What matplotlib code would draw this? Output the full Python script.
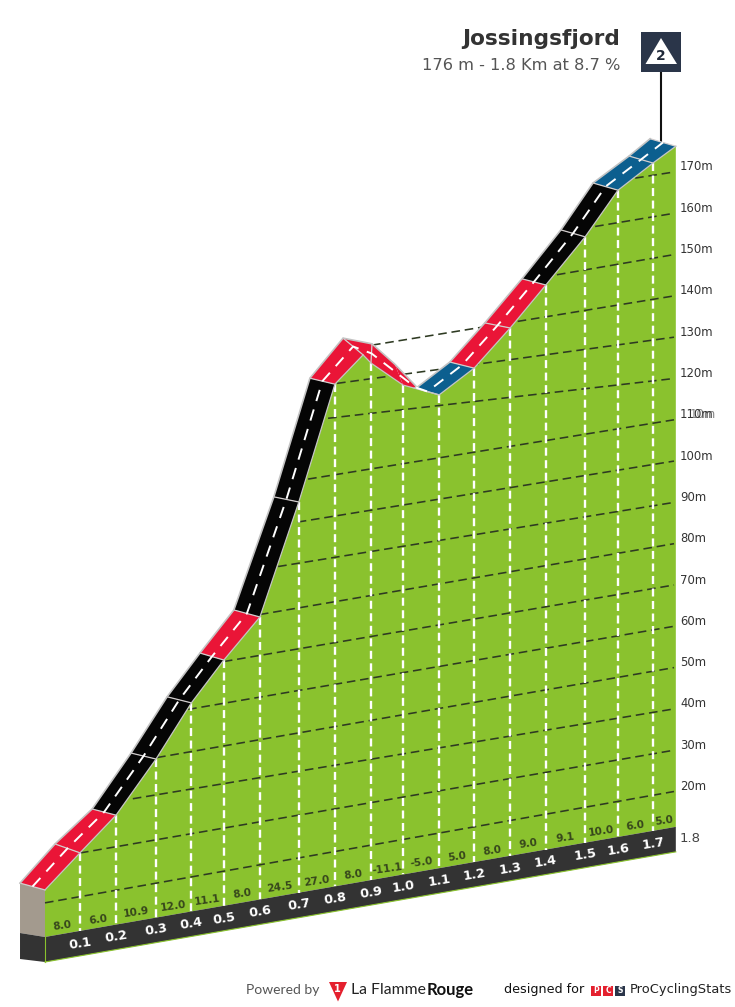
import numpy as np
import matplotlib
matplotlib.use('Agg')
import matplotlib.pyplot as plt
from matplotlib.patches import Polygon, Rectangle

# road front edge: km and metres
front_km = [0, 0.098, 0.199, 0.311, 0.410, 0.501, 0.602, 0.711, 0.812, 0.891, 0.913,
            1.003, 1.034, 1.104, 1.202, 1.303, 1.403, 1.513, 1.605, 1.703, 1.767]
front_m = [22.7, 30.2, 37.8, 49.7, 61.8, 70.8, 79.7, 105.9, 132.9, 138.8, 136.5,
           129.8, 128.6, 125.9, 130.9, 139.1, 148.0, 158.0, 167.9, 173.0, 176.1]
# road far edge
back_km = [-0.070, 0.028, 0.132, 0.241, 0.342, 0.434, 0.529, 0.641, 0.742, 0.835, 0.916,
           0.980, 1.039, 1.039, 1.134, 1.232, 1.336, 1.445, 1.535, 1.636, 1.695]
back_m = [25.4, 33.4, 40.3, 52.2, 64.3, 73.5, 82.5, 108.2, 135.4, 143.7, 141.1,
          135.2, 129.0, 128.5, 133.4, 141.4, 150.5, 160.7, 170.7, 175.7, 179.0]
seg_colors = ['red', 'red', 'black', 'black', 'black', 'red', 'black', 'black', 'red', 'red', 'red',
              'red', None, 'blue', 'red', 'red', 'black', 'black', 'blue', 'blue']

# km marks
mark_idx = [1, 2, 3, 4, 5, 6, 7, 8, 10, 11, 13, 14, 15, 16, 17, 18, 19]
km_labels = ['0.1', '0.2', '0.3', '0.4', '0.5', '0.6', '0.7', '0.8', '0.9', '1.0',
             '1.1', '1.2', '1.3', '1.4', '1.5', '1.6', '1.7']
pct_labels = ['8.0', '6.0', '10.9', '12.0', '11.1', '8.0', '24.5', '27.0', '8.0', '-11.1',
              '-5.0', '5.0', '8.0', '9.0', '9.1', '10.0', '6.0', '5.0']

# elevation grid
grid_levels = [20, 30, 40, 50, 60, 70, 80, 90, 100, 110, 120, 130, 140, 150, 160, 170]
grid_start_km = [0, 0.098, 0.246, 0.314, 0.401, 0.501, 0.602, 0.653, 0.708, 0.737, 0.793, 0.818,
                 0.916, 1.434, 1.541, 1.653]
grid_tilt = [0.177, 0.173, 0.166, 0.174, 0.171, 0.170, 0.171, 0.162, 0.162, 0.162, 0.115, 0.137,
             0.163, 0.172, 0.167, 0.157]

colors = {'red': '#EA1537', 'black': '#050505', 'blue': '#0C5F8F'}
GREEN = '#8AC22E'
DARK = '#333333'

# projection of the profile into the image
X0, Y0, PX_KM, PX_M, SKEW, M0 = 45, 937, 357, 4.13, 0.1746, 11.3


def px(km, m=M0):
    km = np.asarray(km, dtype=float)
    x = X0 + km * PX_KM
    return x, Y0 - SKEW * (x - X0) - (np.asarray(m, dtype=float) - M0) * PX_M


fig = plt.figure(figsize=(7.35, 10.07), dpi=100)
ax = fig.add_axes([0, 0, 1, 1])
ax.set_xlim(0, 735)
ax.set_ylim(1007, 0)
ax.axis('off')

fx, fy = px(front_km, front_m)
bx, by = px(back_km, back_m)
base_x, base_y = px(front_km)
end_x = fx[-1]
band = 25

# green body, dark base band, side of the block
ax.add_patch(Polygon(list(zip(fx, fy)) + list(zip(base_x[::-1], base_y[::-1])), color=GREEN, lw=0, zorder=1))
ax.add_patch(Polygon([(base_x[0], base_y[0]), (base_x[-1], base_y[-1]),
                      (base_x[-1], base_y[-1] + band), (base_x[0], base_y[0] + band)], color=DARK, lw=0, zorder=1))
ax.plot([base_x[0], base_x[-1]], [base_y[0] + band, base_y[-1] + band], color=GREEN, lw=0.8, zorder=2)
ax.plot([base_x[0], base_x[0]], [base_y[0], base_y[0] + band], color=GREEN, lw=0.8, zorder=2)
ax.add_patch(Polygon([(bx[0], by[0]), (fx[0], fy[0]), (fx[0], base_y[0]), (bx[0], base_y[0] - 4)],
                     color='#A39A8E', lw=0, zorder=1))
ax.add_patch(Polygon([(bx[0], base_y[0] - 4), (fx[0], base_y[0]), (fx[0], base_y[0] + band), (bx[0], base_y[0] + band - 3)],
                     color=DARK, lw=0, zorder=1))

# sloped elevation lines and right-hand labels
for lvl, start, tilt in zip(grid_levels, grid_start_km, grid_tilt):
    right_y = 172 + (170 - lvl) * PX_M
    left_x = px(start)[0]
    ax.plot([left_x, 674], [right_y + tilt * (674 - left_x), right_y], color='#2E3A22', lw=1.15,
            dashes=(5.4, 3), zorder=3)
    ax.text(680, right_y - 5, f'{lvl}m', color=DARK, fontsize=8.4, va='center', ha='left', zorder=6)
ax.text(690, 414, '10m', color=DARK, fontsize=8.4, va='center', ha='left', alpha=0.6, zorder=6)
ax.text(680, 838.5, '1.8', color='#444444', fontsize=9.5, va='center', ha='left', zorder=6)

# white km lines
for i in mark_idx:
    ax.plot([fx[i], fx[i]], [fy[i], base_y[i]], color='white', lw=1.7, dashes=(3.4, 1.9), zorder=4)

# road
for i, c in enumerate(seg_colors):
    if c is None:
        continue
    ax.add_patch(Polygon([(bx[i], by[i]), (bx[i + 1], by[i + 1]), (fx[i + 1], fy[i + 1]), (fx[i], fy[i])],
                         color=colors[c], lw=0, zorder=5))
for i in range(len(bx)):
    if i not in (11, 12):
        ax.plot([bx[i], fx[i]], [by[i], fy[i]], color='#D2CDCD', lw=0.9, zorder=5.5)
ax.plot(bx, by, color='#C4C4C4', lw=1.2, zorder=5.5)
ax.plot(fx[:13], fy[:13], color='#C4C4C4', lw=0.9, zorder=5.5)
ax.plot(fx[12:], fy[12:], color='#C4C4C4', lw=0.9, zorder=5.5)
ax.plot((bx + fx) / 2, (by + fy) / 2, color='white', lw=1.4, dashes=(6, 4.5), zorder=5.8)

# distance and gradient labels
mark_x = px(np.array(front_km)[mark_idx])[0]
for x, lab in zip(mark_x, km_labels):
    y = px((x - X0) / PX_KM)[1] + 12.5
    ax.text(x, y, lab, color='white', fontsize=9.3, fontweight='bold', rotation=9,
            ha='center', va='center', rotation_mode='anchor', zorder=7)
edges = np.concatenate([[fx[0]], mark_x, [end_x]])
for a, b, lab in zip(edges[:-1], edges[1:], pct_labels):
    x = (a + b) / 2
    y = px((x - X0) / PX_KM)[1] - 8.5
    ax.text(x, y, lab, color='#37471C', fontsize=7.6, fontweight='bold', rotation=8,
            ha='center', va='center', rotation_mode='anchor', zorder=7)

# header and category sign
ax.text(620, 39, 'Jossingsfjord', color=DARK, fontsize=15.6, fontweight='bold', ha='right', va='center')
ax.text(620, 65, '176 m - 1.8 Km at 8.7 %', color='#555555', fontsize=11.7, ha='right', va='center')
ax.plot([661, 661], [72, 142], color='#111111', lw=1.5, zorder=4.5)
ax.add_patch(Rectangle((641, 32), 40, 40, color='#2A3549', lw=0, zorder=6))
ax.add_patch(Polygon([(661, 38), (677, 64), (645.5, 64)], color='white', lw=0, zorder=7))
ax.text(661, 56, '2', color='#1E2838', fontsize=10, fontweight='bold', ha='center', va='center', zorder=8)

# footer
ax.text(246, 990, 'Powered by', color='#555555', fontsize=10, family='Lato', va='center')
ax.add_patch(Polygon([(329, 982), (347, 982), (338, 1001.5)], color='#E4202E', lw=0, zorder=6))
ax.text(337.5, 989, '1', color='white', fontsize=7, fontweight='bold', ha='center', va='center', zorder=7)
ax.text(351, 990, 'La Flamme', color='#222222', fontsize=11.3, family='Lato', va='center')
ax.text(427, 990, 'Rouge', color='#111111', fontsize=12, family='Lato', fontweight='bold', va='center')
ax.text(504, 990, 'designed for', color='#111111', fontsize=9.2, va='center')
for x, letter, c in zip([591, 603, 615], ['P', 'C', 'S'], ['#E4202E', '#E4202E', '#2A3549']):
    ax.add_patch(Rectangle((x, 985.5), 10, 10, color=c, lw=0, zorder=6))
    ax.text(x + 5, 990.5, letter, color='white', fontsize=5.5, fontweight='bold', ha='center', va='center', zorder=7)
ax.text(630, 990, 'ProCyclingStats', color='#222222', fontsize=9.4, va='center')

plt.savefig('out.png', dpi=100)
plt.close()
